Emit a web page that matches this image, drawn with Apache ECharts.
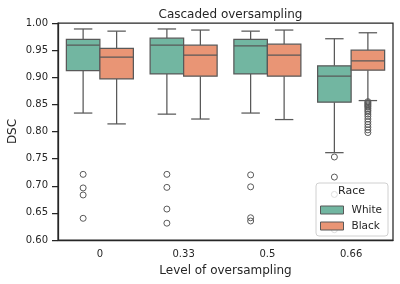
<!DOCTYPE html>
<html><head><meta charset="utf-8">
<script src="https://cdn.jsdelivr.net/npm/echarts@6/dist/echarts.min.js"></script>
<style>html,body{margin:0;padding:0;background:#fff}#c{width:400px;height:284px}</style>
</head><body><div id="c"></div>
<script>
const categories = ['0', '0.33', '0.5', '0.66'];
const seriesNames = ['White', 'Black'];
// [low whisker, Q1, median, Q3, high whisker]
const whiteStats = [
  [0.834, 0.912, 0.959, 0.970, 0.989],
  [0.832, 0.906, 0.959, 0.972, 0.989],
  [0.834, 0.906, 0.958, 0.970, 0.985],
  [0.761, 0.854, 0.902, 0.921, 0.971]
];
const blackStats = [
  [0.814, 0.897, 0.937, 0.953, 0.985],
  [0.823, 0.902, 0.941, 0.959, 0.987],
  [0.822, 0.902, 0.941, 0.961, 0.987],
  [0.857, 0.913, 0.930, 0.950, 0.982]
];
const whiteOutliers = [
  [0.721, 0.696, 0.683, 0.640],
  [0.721, 0.697, 0.657, 0.631],
  [0.720, 0.698, 0.641, 0.635],
  [0.753, 0.716, 0.684, 0.619]
];
const blackOutliers = [
  [], [], [],
  [0.855, 0.853, 0.851, 0.849, 0.847, 0.845, 0.842, 0.839, 0.836, 0.832, 0.828, 0.823, 0.818, 0.813, 0.808, 0.803, 0.798]
];
const yTicks = [0.60, 0.65, 0.70, 0.75, 0.80, 0.85, 0.90, 0.95, 1.00];

const colors = ['#72b6a1', '#e99575'];
const edge = '#595959';
const offsets = [-0.2, 0.2];

function boxData(stats) { return stats.map((s, i) => [i].concat(s)); }
function outData(outs) {
  const d = [];
  outs.forEach((arr, i) => arr.forEach(v => d.push([i, v])));
  return d;
}

function makeBoxRender(k) {
  return function (params, api) {
    const idx = api.value(0);
    const band = api.size([1, 0])[0];
    const w = band * 0.4;
    const cx = api.coord([idx, 0])[0] + offsets[k] * band;
    const y = [1, 2, 3, 4, 5].map(d => api.coord([idx, api.value(d)])[1]);
    const cap = w * 0.55;
    const ls = { stroke: edge, lineWidth: 1.25 };
    return {
      type: 'group',
      children: [
        { type: 'line', shape: { x1: cx, y1: y[0], x2: cx, y2: y[1] }, style: ls },
        { type: 'line', shape: { x1: cx, y1: y[3], x2: cx, y2: y[4] }, style: ls },
        { type: 'line', shape: { x1: cx - cap / 2, y1: y[0], x2: cx + cap / 2, y2: y[0] }, style: ls },
        { type: 'line', shape: { x1: cx - cap / 2, y1: y[4], x2: cx + cap / 2, y2: y[4] }, style: ls },
        { type: 'rect', shape: { x: cx - w / 2, y: y[3], width: w, height: y[1] - y[3] },
          style: { fill: colors[k], stroke: edge, lineWidth: 1.25 } },
        { type: 'line', shape: { x1: cx - w / 2, y1: y[2], x2: cx + w / 2, y2: y[2] }, style: ls }
      ]
    };
  };
}
function makeOutRender(k) {
  return function (params, api) {
    const idx = api.value(0);
    const band = api.size([1, 0])[0];
    const p = api.coord([idx, api.value(1)]);
    return { type: 'circle', shape: { cx: p[0] + offsets[k] * band, cy: p[1], r: 3 },
      style: { fill: 'none', stroke: edge, lineWidth: 1 } };
  };
}

const chart = echarts.init(document.getElementById('c'), null, { renderer: 'canvas' });
const font = 'DejaVu Sans';
chart.setOption({
  animation: false,
  textStyle: { fontFamily: font },
  title: { text: 'Cascaded oversampling', left: 225.5, textAlign: 'center', top: 4,
    textStyle: { fontSize: 12, fontWeight: 'normal', color: '#262626', fontFamily: font } },
  grid: { left: 58, right: 7, top: 23, bottom: 44, show: true, borderColor: '#262626', borderWidth: 1.25,
    containLabel: false, outerBoundsMode: 'none' },
  xAxis: {
    type: 'category', data: categories, boundaryGap: true,
    name: 'Level of oversampling', nameLocation: 'middle', nameGap: 25, nameMoveOverlap: false,
    nameTextStyle: { fontSize: 12, color: '#262626', fontFamily: font },
    axisLine: { lineStyle: { color: '#262626', width: 1.25 } },
    axisTick: { alignWithLabel: true, length: 6, lineStyle: { color: '#262626', width: 1.25 } },
    axisLabel: { fontSize: 10, color: '#262626', margin: 9, fontFamily: font },
    splitLine: { show: false }
  },
  yAxis: {
    type: 'value', min: 0.6, max: 1.0, interval: 0.05,
    name: 'DSC', nameLocation: 'middle', nameGap: 39, nameMoveOverlap: false,
    nameTextStyle: { fontSize: 12, color: '#262626', fontFamily: font },
    axisLine: { show: true, lineStyle: { color: '#262626', width: 1.25 } },
    axisTick: { show: true, length: 6, lineStyle: { color: '#262626', width: 1.25 } },
    axisLabel: { fontSize: 10, color: '#262626', margin: 10, fontFamily: font,
      formatter: v => { const t = yTicks.find(x => Math.abs(x - v) < 1e-6); return (t !== undefined ? t : v).toFixed(2); } },
    splitLine: { show: false }
  },
  legend: {
    orient: 'vertical', left: 316, top: 183,
    padding: [21, 6, 4, 4], itemGap: 4,
    itemWidth: 23, itemHeight: 8, icon: 'rect',
    backgroundColor: 'rgba(255,255,255,0.8)', borderColor: '#d0d0d0', borderWidth: 1, borderRadius: 3,
    textStyle: { fontSize: 10.5, color: '#262626', fontFamily: font, padding: [0, 0, 0, 3], lineHeight: 12 },
    data: [
      { name: 'White', itemStyle: { color: colors[0], borderColor: edge, borderWidth: 1 } },
      { name: 'Black', itemStyle: { color: colors[1], borderColor: edge, borderWidth: 1 } }
    ]
  },
  graphic: [{
    type: 'text', left: 338, top: 186, z: 100,
    style: { text: 'Race', fontSize: 11, fill: '#262626', fontFamily: font }
  }],
  series: [
    { name: seriesNames[0], type: 'custom', renderItem: makeBoxRender(0), data: boxData(whiteStats),
      encode: { x: 0, y: [1, 2, 3, 4, 5] }, itemStyle: { color: colors[0] }, z: 2 },
    { name: seriesNames[1], type: 'custom', renderItem: makeBoxRender(1), data: boxData(blackStats),
      encode: { x: 0, y: [1, 2, 3, 4, 5] }, itemStyle: { color: colors[1] }, z: 2 },
    { name: 'White outliers', type: 'custom', renderItem: makeOutRender(0), data: outData(whiteOutliers),
      encode: { x: 0, y: 1 }, z: 3 },
    { name: 'Black outliers', type: 'custom', renderItem: makeOutRender(1), data: outData(blackOutliers),
      encode: { x: 0, y: 1 }, z: 3 }
  ]
});
</script></body></html>
